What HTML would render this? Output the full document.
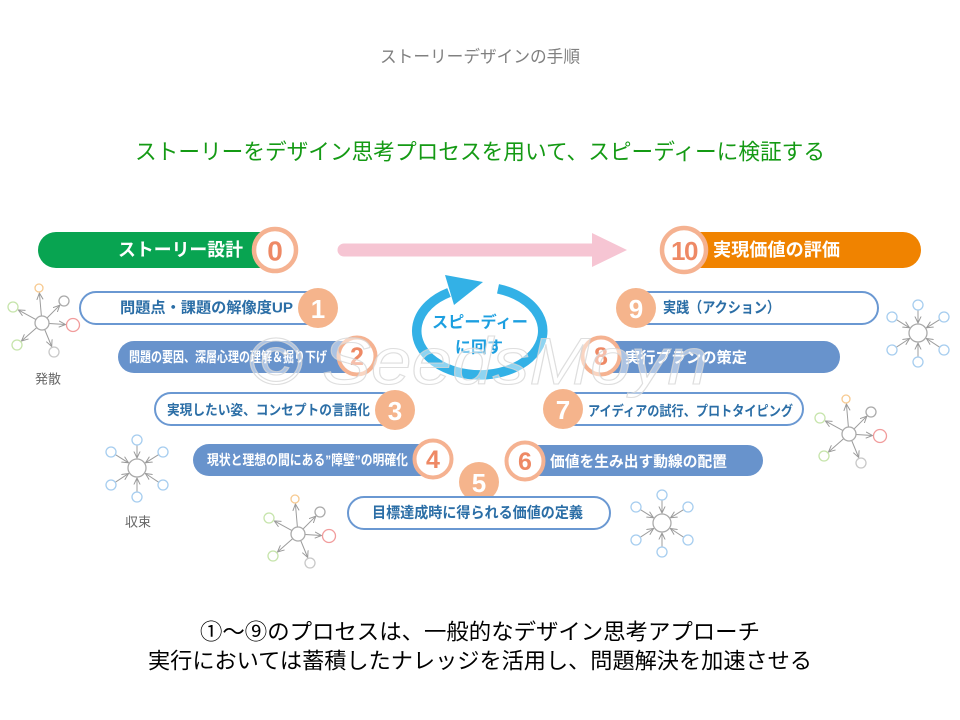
<!DOCTYPE html>
<html><head><meta charset="utf-8"><style>
html,body{margin:0;padding:0;background:#fff;}
svg{display:block;}
text{font-family:"Liberation Sans","Noto Sans CJK JP",sans-serif;}
</style></head><body>
<svg width="960" height="720" viewBox="0 0 960 720" xmlns="http://www.w3.org/2000/svg">
<defs>
<marker id="ah" viewBox="0 0 10 10" refX="9.5" refY="5" markerWidth="7" markerHeight="7" orient="auto" markerUnits="userSpaceOnUse">
<path d="M0,0.5 L9.5,5 L0,9.5" fill="none" stroke="#999" stroke-width="1.4"/>
</marker>
<g id="dv" fill="#fff" stroke-width="1.3">
<g stroke="#9c9c9c" stroke-width="1" marker-end="url(#ah)">
<line x1="-0.6" y1="-7" x2="-2.6" y2="-30"/>
<line x1="4.9" y1="-4.9" x2="17.8" y2="-17.8"/>
<line x1="7" y1="0.45" x2="23.5" y2="1.5"/>
<line x1="2.7" y1="6.5" x2="9.7" y2="23.5"/>
<line x1="-5.3" y1="4.6" x2="-20.5" y2="18"/>
<line x1="-6.1" y1="-3.4" x2="-23.7" y2="-13.1"/>
</g>
<circle cx="0" cy="0" r="7" stroke="#aaa"/>
<circle cx="-3" cy="-35" r="4" stroke="#f7c98f"/>
<circle cx="22" cy="-22" r="5" stroke="#aaa"/>
<circle cx="31" cy="2" r="6.5" stroke="#f19c9c"/>
<circle cx="12" cy="29" r="5" stroke="#c8c8c8"/>
<circle cx="-25" cy="22" r="5" stroke="#c6e4ab"/>
<circle cx="-29" cy="-16" r="5" stroke="#c6e4ab"/>
</g>
<g id="cv" fill="#fff" stroke-width="1.3">
<g stroke="#9c9c9c" stroke-width="1" marker-end="url(#ah)">
<line x1="0" y1="-23" x2="0" y2="-10"/>
<line x1="21.7" y1="-13.4" x2="8.5" y2="-5.2"/>
<line x1="21.8" y1="14.3" x2="8.4" y2="5.5"/>
<line x1="0" y1="24" x2="0" y2="10"/>
<line x1="-21.8" y1="14.3" x2="-8.4" y2="5.5"/>
<line x1="-21.7" y1="-13.4" x2="-8.5" y2="-5.2"/>
</g>
<circle cx="0" cy="0" r="9" stroke="#aaa"/>
<circle cx="0" cy="-28" r="5" stroke="#a6cdef"/>
<circle cx="26" cy="-16" r="5" stroke="#a6cdef"/>
<circle cx="26" cy="17" r="5" stroke="#a6cdef"/>
<circle cx="0" cy="29" r="5" stroke="#a6cdef"/>
<circle cx="-26" cy="17" r="5" stroke="#a6cdef"/>
<circle cx="-26" cy="-16" r="5" stroke="#a6cdef"/>
</g>
</defs>

<!-- titles -->
<text x="480" y="57" text-anchor="middle" dominant-baseline="central" font-size="17" fill="#808080" textLength="200" lengthAdjust="spacingAndGlyphs">ストーリーデザインの手順</text>
<text x="480" y="152" text-anchor="middle" dominant-baseline="central" font-size="22" fill="#149a14" textLength="690" lengthAdjust="spacingAndGlyphs">ストーリーをデザイン思考プロセスを用いて、スピーディーに検証する</text>

<!-- top bars -->
<path d="M56 232 H285 V268 H56 A18 18 0 0 1 56 232 Z" fill="#08a451"/>
<text x="118" y="250" dominant-baseline="central" font-size="18" font-weight="bold" fill="#fff" textLength="125" lengthAdjust="spacingAndGlyphs">ストーリー設計</text>
<path d="M680 232 H903 A18 18 0 0 1 903 268 H680 Z" fill="#f08300"/>
<text x="713" y="250" dominant-baseline="central" font-size="18" font-weight="bold" fill="#fff" textLength="127" lengthAdjust="spacingAndGlyphs">実現価値の評価</text>

<!-- pink arrow -->
<path d="M344 243.5 H592 V233 L627 250 L592 267 V256.5 H344 A6.5 6.5 0 0 1 344 243.5 Z" fill="#f6c5d3"/>

<!-- circle 0 and 10 -->
<circle cx="275" cy="250" r="21" fill="#fff" stroke="#f5b291" stroke-width="4.5"/>
<text x="275" y="251" text-anchor="middle" dominant-baseline="central" font-size="28" font-weight="bold" fill="#ee8965">0</text>
<circle cx="684" cy="250" r="22" fill="#fff" stroke="#f5b291" stroke-width="4.5"/>
<text x="684" y="251" text-anchor="middle" dominant-baseline="central" font-size="26" font-weight="bold" fill="#ee8965" letter-spacing="-1.5">10</text>

<!-- left pills -->
<rect x="80" y="292" width="248" height="32" rx="16" fill="#fff" stroke="#6a98d2" stroke-width="2"/>
<text x="120" y="308" dominant-baseline="central" font-size="15" font-weight="bold" fill="#2b6ea6" textLength="173" lengthAdjust="spacingAndGlyphs">問題点・課題の解像度UP</text>
<rect x="118" y="341" width="245" height="32" rx="16" fill="#6893cc"/>
<text x="129" y="357" dominant-baseline="central" font-size="14" font-weight="bold" fill="#fff" textLength="198" lengthAdjust="spacingAndGlyphs">問題の要因、深層心理の理解＆掘り下げ</text>
<rect x="155" y="393" width="243" height="32" rx="16" fill="#fff" stroke="#6a98d2" stroke-width="2"/>
<text x="167" y="410" dominant-baseline="central" font-size="14" font-weight="bold" fill="#2b6ea6" textLength="203" lengthAdjust="spacingAndGlyphs">実現したい姿、コンセプトの言語化</text>
<rect x="193" y="444" width="243" height="32" rx="16" fill="#6893cc"/>
<text x="207" y="460" dominant-baseline="central" font-size="14" font-weight="bold" fill="#fff" textLength="201" lengthAdjust="spacingAndGlyphs">現状と理想の間にある”障壁”の明確化</text>

<!-- right pills -->
<rect x="630" y="292" width="248" height="32" rx="16" fill="#fff" stroke="#6a98d2" stroke-width="2"/>
<text x="663" y="308" dominant-baseline="central" font-size="15" font-weight="bold" fill="#2b6ea6" textLength="117" lengthAdjust="spacingAndGlyphs">実践（アクション）</text>
<rect x="597" y="341" width="243" height="32" rx="16" fill="#6893cc"/>
<text x="625" y="358" dominant-baseline="central" font-size="15" font-weight="bold" fill="#fff" textLength="122" lengthAdjust="spacingAndGlyphs">実行プランの策定</text>
<rect x="560" y="393" width="243" height="32" rx="16" fill="#fff" stroke="#6a98d2" stroke-width="2"/>
<text x="588" y="411" dominant-baseline="central" font-size="14" font-weight="bold" fill="#2b6ea6" textLength="205" lengthAdjust="spacingAndGlyphs">アイディアの試行、プロトタイピング</text>
<rect x="522" y="445" width="241" height="31" rx="15.5" fill="#6893cc"/>
<text x="550" y="462" dominant-baseline="central" font-size="15" font-weight="bold" fill="#fff" textLength="177" lengthAdjust="spacingAndGlyphs">価値を生み出す動線の配置</text>

<!-- circle 5 and bottom pill -->
<circle cx="479" cy="482" r="20" fill="#f5b48c"/>
<text x="479" y="483" text-anchor="middle" dominant-baseline="central" font-size="26" font-weight="bold" fill="#fff">5</text>
<rect x="348" y="497" width="262" height="32" rx="16" fill="#fff" stroke="#6a98d2" stroke-width="2"/>
<text x="372" y="513" dominant-baseline="central" font-size="15" font-weight="bold" fill="#2b6ea6" textLength="211" lengthAdjust="spacingAndGlyphs">目標達成時に得られる価値の定義</text>

<!-- numbered circles -->
<circle cx="318" cy="308" r="20" fill="#f5b48c"/>
<text x="318" y="309" text-anchor="middle" dominant-baseline="central" font-size="26" font-weight="bold" fill="#fff">1</text>
<circle cx="357" cy="356" r="18.5" fill="#fff" stroke="#f5b291" stroke-width="4"/>
<text x="357" y="357" text-anchor="middle" dominant-baseline="central" font-size="25" font-weight="bold" fill="#ee8965">2</text>
<circle cx="395" cy="410" r="20" fill="#f5b48c"/>
<text x="395" y="411" text-anchor="middle" dominant-baseline="central" font-size="26" font-weight="bold" fill="#fff">3</text>
<circle cx="433" cy="459" r="18.5" fill="#fff" stroke="#f5b291" stroke-width="4"/>
<text x="433" y="460" text-anchor="middle" dominant-baseline="central" font-size="25" font-weight="bold" fill="#ee8965">4</text>

<circle cx="636" cy="308" r="20" fill="#f5b48c"/>
<text x="636" y="309" text-anchor="middle" dominant-baseline="central" font-size="26" font-weight="bold" fill="#fff">9</text>
<circle cx="601" cy="356" r="18.5" fill="#fff" stroke="#f5b291" stroke-width="4"/>
<text x="601" y="357" text-anchor="middle" dominant-baseline="central" font-size="25" font-weight="bold" fill="#ee8965">8</text>
<circle cx="563" cy="409" r="20" fill="#f5b48c"/>
<text x="563" y="410" text-anchor="middle" dominant-baseline="central" font-size="26" font-weight="bold" fill="#fff">7</text>
<circle cx="525" cy="461" r="18.5" fill="#fff" stroke="#f5b291" stroke-width="4"/>
<text x="525" y="462" text-anchor="middle" dominant-baseline="central" font-size="25" font-weight="bold" fill="#ee8965">6</text>

<!-- cycle arrow -->
<path d="M498 288.8 A63 44 0 1 1 449 292.5" fill="none" stroke="#33b1e6" stroke-width="9.5"/>
<polygon points="445,275 483,282 454,305" fill="#33b1e6"/>
<text x="432" y="323" dominant-baseline="central" font-size="16" font-weight="bold" fill="#1c9fe0" textLength="96" lengthAdjust="spacingAndGlyphs">スピーディー</text>
<text x="455" y="348" dominant-baseline="central" font-size="16" font-weight="bold" fill="#1c9fe0" textLength="48" lengthAdjust="spacingAndGlyphs">に回す</text>

<!-- watermark -->
<text x="248" y="384" font-family="Liberation Serif, serif" font-style="italic" font-size="66" fill="#fff" fill-opacity="0.45" stroke="#d6d6d6" stroke-width="1.1" stroke-opacity="0.8" textLength="460" lengthAdjust="spacingAndGlyphs">© SeedsMoyn</text>

<!-- network icons -->
<use href="#dv" transform="translate(42,323)"/>
<use href="#dv" transform="translate(849,434)"/>
<use href="#dv" transform="translate(298,534)"/>
<use href="#cv" transform="translate(137,468)"/>
<use href="#cv" transform="translate(918,333)"/>
<use href="#cv" transform="translate(662,523)"/>
<text x="48" y="379" text-anchor="middle" dominant-baseline="central" font-size="13" fill="#666">発散</text>
<text x="138" y="522" text-anchor="middle" dominant-baseline="central" font-size="13" fill="#666">収束</text>

<!-- bottom text -->
<text x="480" y="632" text-anchor="middle" dominant-baseline="central" font-size="22" fill="#000" textLength="560" lengthAdjust="spacingAndGlyphs">①～⑨のプロセスは、一般的なデザイン思考アプローチ</text>
<text x="480" y="661" text-anchor="middle" dominant-baseline="central" font-size="22" fill="#000" textLength="664" lengthAdjust="spacingAndGlyphs">実行においては蓄積したナレッジを活用し、問題解決を加速させる</text>
</svg>
</body></html>
